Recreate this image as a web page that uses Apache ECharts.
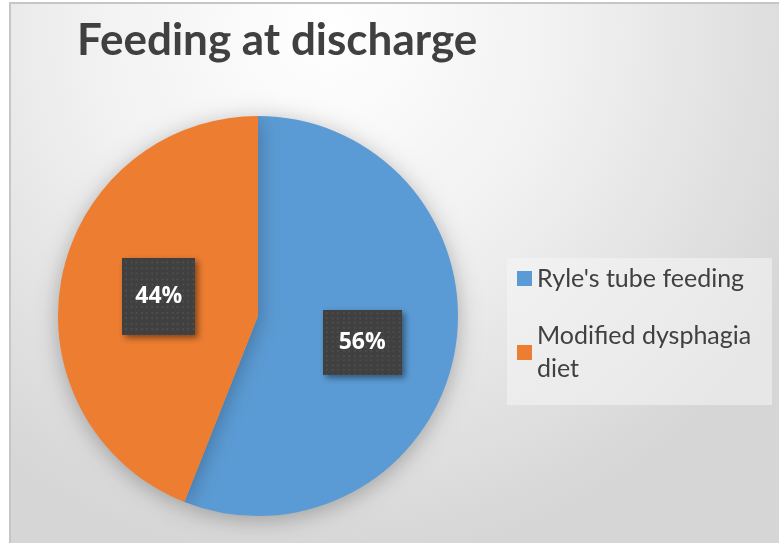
<!DOCTYPE html>
<html>
<head>
<meta charset="UTF-8">
<title>Feeding at discharge</title>
<script src="https://cdn.jsdelivr.net/npm/echarts@6/dist/echarts.min.js"></script>
<style>
  html, body { margin: 0; padding: 0; background: #fff; }
  #main { width: 779px; height: 543px; }
</style>
</head>
<body>
<div id="main"></div>
<script>
// data
var categories = ["Ryle's tube feeding", 'Modified dysphagia diet'];
var shares = [56, 44];
var sliceColors = ['#5B9BD5', '#ED7D31'];

// dotted dark texture for the data labels
function dotTexture() {
  var c = document.createElement('canvas');
  c.width = 78; c.height = 76;
  var ctx = c.getContext('2d');
  ctx.fillStyle = '#404040';
  ctx.fillRect(0, 0, c.width, c.height);
  ctx.fillStyle = '#4e4e4e';
  for (var y = 3; y < c.height; y += 5.5) {
    for (var x = 3; x < c.width; x += 5.5) {
      ctx.fillRect(Math.round(x), Math.round(y), 2, 2);
    }
  }
  return c;
}
var texture = dotTexture();

var chart = echarts.init(document.getElementById('main'));

// label box padding / nudge per slice (the boxes are not the same size in the original)
var labelPads = [[21, 16], [27, 13]];
var labelNudge = [[3, 7], [2, 0]];

var pieData = categories.map(function (name, i) {
  return {
    name: name, value: shares[i],
    itemStyle: { color: sliceColors[i] },
    label: { padding: labelPads[i], offset: labelNudge[i] }
  };
});

var legendData = categories.map(function (name, i) {
  // long name wraps to 2 lines; pad the top so the first line sits beside the square
  return i === 1 ? { name: name, textStyle: { padding: [33, 0, 0, 0] } } : { name: name };
});

var option = {
  backgroundColor: '#ffffff',
  animation: false,
  graphic: [
    {
      type: 'rect', z: -10, silent: true,
      shape: { x: 10, y: 3, width: 790, height: 560 },
      style: {
        fill: new echarts.graphic.RadialGradient(0.4, 0.05, 0.95, [
          { offset: 0, color: '#ffffff' },
          { offset: 0.45, color: '#f1f1f1' },
          { offset: 1, color: '#d6d6d6' }
        ]),
        stroke: '#c6c6c6', lineWidth: 2
      }
    },
    {
      type: 'rect', z: -5, silent: true,
      shape: { x: 507, y: 258, width: 265, height: 147 },
      style: { fill: 'rgba(245,245,245,0.55)' }
    }
  ],
  title: {
    text: 'Feeding at discharge',
    left: 72, top: 14,
    textStyle: { fontFamily: 'Lato', fontWeight: 'bold', fontSize: 44, color: '#404040' }
  },
  legend: {
    orient: 'vertical',
    left: 517, top: 262,
    padding: 0,
    itemWidth: 15, itemHeight: 15,
    itemGap: 8,
    icon: 'rect',
    data: legendData,
    textStyle: {
      fontFamily: 'Lato', fontSize: 25, color: '#404040',
      lineHeight: 33, width: 235, overflow: 'break'
    }
  },
  series: [{
    type: 'pie',
    center: [258, 316],
    radius: 200,
    startAngle: 90,
    clockwise: true,
    data: pieData,
    itemStyle: {
      shadowBlur: 22, shadowColor: 'rgba(0,0,0,0.28)', shadowOffsetY: 4
    },
    emphasis: { disabled: true },
    labelLine: { show: false },
    label: {
      show: true,
      position: 'inside',
      formatter: '{d}%',
      fontFamily: 'Open Sans', fontWeight: 'bold', fontSize: 23, color: '#ffffff',
      backgroundColor: { image: texture },
      shadowColor: 'rgba(0,0,0,0.45)', shadowBlur: 6, shadowOffsetX: 3, shadowOffsetY: 3
    }
  }]
};

chart.setOption(option);
</script>
</body>
</html>
